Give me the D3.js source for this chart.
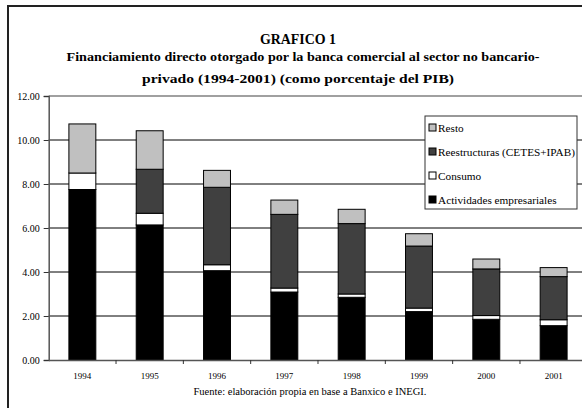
<!DOCTYPE html>
<html>
<head>
<meta charset="utf-8">
<script src="https://cdn.jsdelivr.net/npm/d3@7"></script>
<style>
  body { margin: 0; background: #fff; }
  svg { display: block; font-family: 'Liberation Serif', 'Times New Roman', serif; }
</style>
</head>
<body>
<div id="graf"></div>
<script>
// datos (porcentaje del PIB)
anios = ['1994', '1995', '1996', '1997', '1998', '1999', '2000', '2001']
actividades   = [7.75, 6.14, 4.06, 3.09, 2.85, 2.20, 1.85, 1.56]
consumo       = [0.75, 0.53, 0.27, 0.18, 0.15, 0.16, 0.17, 0.27]
reestructuras = [0.00, 2.00, 3.52, 3.35, 3.20, 2.82, 2.12, 1.96]
resto         = [2.23, 1.75, 0.77, 0.65, 0.65, 0.56, 0.45, 0.41]
series = ['actividades', 'consumo', 'reestructuras', 'resto']
nombres = ['Actividades empresariales', 'Consumo', 'Reestructuras (CETES+IPAB)', 'Resto']
colores = ['#000000', '#ffffff', '#404040', '#c0c0c0']
yTicks = [0, 2, 4, 6, 8, 10, 12]
titulo1 = 'GRAFICO 1'
titulo2 = 'Financiamiento directo otorgado por la banca comercial al sector no bancario-'
titulo3 = 'privado (1994-2001) (como porcentaje del PIB)'
fuente = 'Fuente: elaboración propia en base a Banxico e INEGI.'

ancho_total = 582
alto_total = 408

svg = d3.select('#graf').append('svg')
  .attr('width', ancho_total)
  .attr('height', alto_total)

// marco exterior (recortado a la derecha y abajo)
svg.append('rect')
  .attr('x', 8).attr('y', 6)
  .attr('width', 700).attr('height', 500)
  .attr('fill', 'none')
  .attr('stroke', '#222')
  .attr('stroke-width', 2)

margins = { top: 96, left: 48.7, right: -5.3, bottom: 48 }
ancho = ancho_total - margins.left - margins.right
alto = alto_total - margins.top - margins.bottom

g = svg.append('g')
  .attr('transform', `translate(${margins.left}, ${margins.top})`)

// escalas
x = d3.scaleBand()
  .domain(anios)
  .range([0, ancho])
  .paddingInner(0.6)
  .paddingOuter(0.3)

y = d3.scaleLinear()
  .domain([0, 12])
  .range([alto, 0])

color = d3.scaleOrdinal().domain(series).range(colores)

// lineas de division
g.selectAll('line.grid')
  .data(yTicks.filter(d => d > 0 && d < 12))
  .enter().append('line')
  .attr('class', 'grid')
  .attr('x1', 0).attr('x2', ancho)
  .attr('y1', d => y(d)).attr('y2', d => y(d))
  .attr('stroke', '#000')
  .attr('stroke-width', 1)

// borde superior del area de grafico
g.append('line')
  .attr('x1', 0).attr('x2', ancho)
  .attr('y1', y(12)).attr('y2', y(12))
  .attr('stroke', '#808080')
  .attr('stroke-width', 1.5)

// datos apilados
tabla = anios.map((a, i) => ({
  anio: a,
  actividades: actividades[i],
  consumo: consumo[i],
  reestructuras: reestructuras[i],
  resto: resto[i]
}))
apilado = d3.stack().keys(series)(tabla)

g.selectAll('g.serie')
  .data(apilado)
  .enter().append('g')
  .attr('class', 'serie')
  .attr('fill', d => color(d.key))
  .selectAll('rect')
  .data(d => d.filter(p => p[1] - p[0] > 0))
  .enter().append('rect')
  .attr('x', d => x(d.data.anio))
  .attr('y', d => y(d[1]))
  .attr('width', x.bandwidth())
  .attr('height', d => y(d[0]) - y(d[1]))
  .attr('stroke', '#000')
  .attr('stroke-width', 1)

// ejes
yAxis = g.append('g')
  .call(d3.axisLeft(y).tickValues(yTicks).tickFormat(d3.format('.2f')).tickSize(5).tickPadding(4))
yAxis.select('.domain').attr('stroke', '#555').attr('stroke-width', 1.5)
yAxis.selectAll('.tick line').attr('stroke', '#333')
yAxis.selectAll('text')
  .attr('font-family', "'Liberation Serif', serif")
  .attr('font-size', '10px')
  .attr('fill', '#000')

xAxis = g.append('g')
  .attr('transform', `translate(0, ${alto})`)
  .call(d3.axisBottom(x).tickSize(0).tickPadding(13))
xAxis.select('.domain').attr('stroke', '#555').attr('stroke-width', 1.5)
xAxis.selectAll('text')
  .attr('font-family', "'Liberation Serif', serif")
  .attr('font-size', '9px')
  .attr('fill', '#000')

// marcas entre categorias
g.selectAll('line.xtick')
  .data(anios.slice(1))
  .enter().append('line')
  .attr('class', 'xtick')
  .attr('x1', d => x(d) - x.bandwidth() * 0.75)
  .attr('x2', d => x(d) - x.bandwidth() * 0.75)
  .attr('y1', alto).attr('y2', alto + 4)
  .attr('stroke', '#333')

// titulos
function texto(t, px, py, size, bold, largo) {
  el = svg.append('text')
    .attr('x', px).attr('y', py)
    .attr('text-anchor', 'middle')
    .attr('font-size', size + 'px')
    .attr('font-weight', bold ? 'bold' : 'normal')
    .attr('fill', '#000')
    .attr('textLength', largo)
    .attr('lengthAdjust', 'spacingAndGlyphs')
    .text(t)
  return el
}

texto(titulo1, 298, 44, 14, true, 76)
texto(titulo2, 303, 61, 13.5, true, 473)
texto(titulo3, 298, 83, 13.5, true, 312)
texto(fuente, 310, 395, 10, false, 233)

// leyenda
leyenda = svg.append('g').attr('transform', 'translate(425, 116)')
leyenda.append('rect')
  .attr('width', 152).attr('height', 93)
  .attr('fill', '#fff')
  .attr('stroke', '#333')
  .attr('stroke-width', 1)

ordenLeyenda = series.slice().reverse()
textosLeyenda = []
ordenLeyenda.forEach((s, i) => {
  leyenda.append('rect')
    .attr('x', 4).attr('y', 8 + i * 24)
    .attr('width', 7).attr('height', 7)
    .attr('fill', color(s))
    .attr('stroke', '#000')
  t = leyenda.append('text')
    .attr('x', 13).attr('y', 15.5 + i * 24)
    .attr('font-size', '11px')
    .attr('fill', '#000')
    .text(nombres[series.indexOf(s)])
  textosLeyenda.push(t)
})
// ajustar ancho para que el texto mas largo mida 137px
maxLargo = d3.max(textosLeyenda, t => t.node().getComputedTextLength())
textosLeyenda.forEach(t => {
  t.attr('textLength', t.node().getComputedTextLength() * 137 / maxLargo)
   .attr('lengthAdjust', 'spacingAndGlyphs')
})
</script>
</body>
</html>
